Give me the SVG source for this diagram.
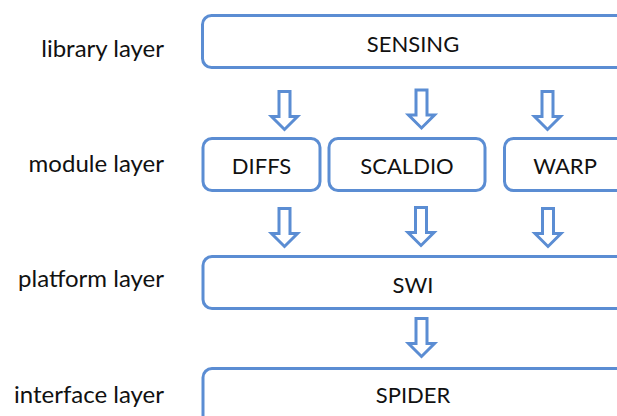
<svg xmlns="http://www.w3.org/2000/svg" width="617" height="416" viewBox="0 0 617 416">
  <style>
    .box { fill: #ffffff; stroke: #5b8dd3; stroke-width: 3; }
    .arrow { fill: #ffffff; stroke: #5b8dd3; stroke-width: 3; stroke-linejoin: miter; }
    .name { font-family: Lato, "Liberation Sans", sans-serif; font-size: 22px; fill: #111111; text-anchor: middle; }
    .layer { font-family: Lato, "Liberation Sans", sans-serif; font-size: 24px; fill: #111111; text-anchor: end; }
  </style>
  <defs>
    <!-- hollow block arrow pointing down, top-centre at origin -->
    <path id="down" d="M-5.5,0 H5.5 V25 H13 L0,38 L-13,25 H-5.5 Z"/>
  </defs>
  <rect width="617" height="416" fill="#ffffff"/>

  <!-- layer captions -->
  <g id="captions">
    <text class="layer" x="164" y="57">library layer</text>
    <text class="layer" x="164" y="172">module layer</text>
    <text class="layer" x="164" y="287">platform layer</text>
    <text class="layer" x="164" y="403">interface layer</text>
  </g>

  <g id="sensing">
    <rect class="box" x="202.5" y="15.5" width="440" height="52" rx="9"/>
    <text class="name" x="413" y="51.5">SENSING</text>
  </g>
  <g id="diffs">
    <rect class="box" x="203" y="138.5" width="117" height="52" rx="9"/>
    <text class="name" x="261.5" y="173.5">DIFFS</text>
  </g>
  <g id="scaldio">
    <rect class="box" x="329" y="138.5" width="156" height="52" rx="9"/>
    <text class="name" x="407" y="173.5">SCALDIO</text>
  </g>
  <g id="warp">
    <rect class="box" x="504.5" y="138.5" width="150" height="52" rx="9"/>
    <text class="name" x="565" y="173.5">WARP</text>
  </g>
  <g id="swi">
    <rect class="box" x="203" y="256.5" width="440" height="52" rx="9"/>
    <text class="name" x="413" y="293">SWI</text>
  </g>
  <g id="spider">
    <rect class="box" x="203" y="368.5" width="440" height="80" rx="9"/>
    <text class="name" x="413" y="403">SPIDER</text>
  </g>

  <g id="connectors" class="arrow">
    <use href="#down" x="284.5" y="91.5"/>
    <use href="#down" x="421.5" y="90"/>
    <use href="#down" x="547.5" y="91.5"/>
    <use href="#down" x="284.5" y="208.5"/>
    <use href="#down" x="421" y="207.5"/>
    <use href="#down" x="548" y="208.5"/>
    <use href="#down" x="421.5" y="318.5"/>
  </g>
</svg>
